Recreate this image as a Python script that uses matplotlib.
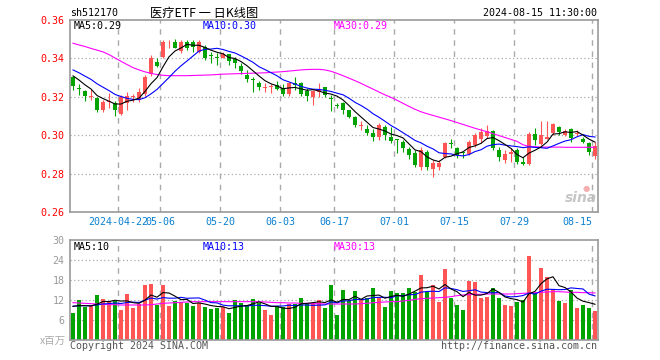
import matplotlib
matplotlib.use("Agg")
import matplotlib.pyplot as plt
from matplotlib.transforms import blended_transform_factory
import numpy as np
import pandas as pd

# ---------------- data ----------------
month_days = {
    "04": [10, 11, 12, 15, 16, 17, 18, 19, 22, 23, 24, 25, 26, 29, 30],
    "05": [6, 7, 8, 9, 10, 13, 14, 15, 16, 17, 20, 21, 22, 23, 24, 27, 28, 29, 30, 31],
    "06": [3, 4, 5, 6, 7, 11, 12, 13, 14, 17, 18, 19, 20, 21, 24, 25, 26, 27, 28],
    "07": [1, 2, 3, 4, 5, 8, 9, 10, 11, 12, 15, 16, 17, 18, 19, 22, 23, 24, 25, 26, 29, 30, 31],
    "08": [1, 2, 5, 6, 7, 8, 9, 12, 13, 14, 15],
}
trade_days = [f"2024-{m}-{d:02d}" for m, ds in month_days.items() for d in ds]

tick_dates = ["2024-04-22", "2024-05-06", "2024-05-20", "2024-06-03", "2024-06-17",
              "2024-07-01", "2024-07-15", "2024-07-29", "2024-08-15"]
tick_labels = ["2024-04-22", "05-06", "05-20", "06-03", "06-17",
               "07-01", "07-15", "07-29", "08-15"]

opens = [0.3305, 0.3246, 0.3230, 0.3199, 0.3195, 0.3131, 0.3171, 0.3166, 0.3108, 0.3166,
         0.3198, 0.3183, 0.3213, 0.3317, 0.3383, 0.3409, 0.3483, 0.3484, 0.3439, 0.3484,
         0.3484, 0.3435, 0.3461, 0.3416, 0.3405, 0.3404, 0.3421, 0.3397, 0.3362, 0.3316,
         0.3292, 0.3274, 0.3248, 0.3249, 0.3261, 0.3244, 0.3215, 0.3270, 0.3270, 0.3230,
         0.3197, 0.3227, 0.3249, 0.3194, 0.3154, 0.3166, 0.3131, 0.3093, 0.3047, 0.3032,
         0.3013, 0.2989, 0.3044, 0.2992, 0.2977, 0.2966, 0.2926, 0.2906, 0.2835, 0.2914,
         0.2824, 0.2836, 0.2885, 0.2957, 0.2932, 0.2907, 0.2902, 0.2949, 0.2979, 0.2996,
         0.3022, 0.2923, 0.2871, 0.2902, 0.2923, 0.2862, 0.2850, 0.3006, 0.2954, 0.2979,
         0.3010, 0.3041, 0.3001, 0.3030, 0.3005, 0.2980, 0.2958, 0.2890]
highs = [0.3310, 0.3265, 0.3237, 0.3239, 0.3201, 0.3183, 0.3221, 0.3178, 0.3209, 0.3223,
         0.3216, 0.3244, 0.3314, 0.3418, 0.3404, 0.3496, 0.3496, 0.3501, 0.3496, 0.3496,
         0.3496, 0.3496, 0.3470, 0.3435, 0.3427, 0.3433, 0.3425, 0.3409, 0.3375, 0.3342,
         0.3305, 0.3284, 0.3270, 0.3267, 0.3284, 0.3267, 0.3279, 0.3305, 0.3279, 0.3244,
         0.3235, 0.3274, 0.3253, 0.3209, 0.3166, 0.3175, 0.3133, 0.3102, 0.3074, 0.3053,
         0.3031, 0.3065, 0.3053, 0.3044, 0.2979, 0.2975, 0.2937, 0.2923, 0.2937, 0.2923,
         0.2871, 0.2871, 0.2966, 0.2979, 0.2940, 0.2914, 0.2975, 0.3010, 0.3036, 0.3053,
         0.3027, 0.2940, 0.2923, 0.2932, 0.2932, 0.2885, 0.3018, 0.3036, 0.3076, 0.3076,
         0.3062, 0.3046, 0.3031, 0.3035, 0.3025, 0.2990, 0.2966, 0.2966]
lows = [0.3235, 0.3209, 0.3180, 0.3183, 0.3119, 0.3119, 0.3142, 0.3101, 0.3105, 0.3131,
        0.3175, 0.3175, 0.3204, 0.3308, 0.3357, 0.3404, 0.3453, 0.3453, 0.3427, 0.3444,
        0.3435, 0.3427, 0.3392, 0.3375, 0.3366, 0.3402, 0.3366, 0.3348, 0.3317, 0.3279,
        0.3227, 0.3235, 0.3227, 0.3221, 0.3235, 0.3204, 0.3204, 0.3235, 0.3204, 0.3180,
        0.3157, 0.3197, 0.3197, 0.3128, 0.3140, 0.3110, 0.3090, 0.3044, 0.3027, 0.3001,
        0.2971, 0.2975, 0.2975, 0.2961, 0.2909, 0.2914, 0.2874, 0.2833, 0.2819, 0.2819,
        0.2781, 0.2819, 0.2880, 0.2932, 0.2880, 0.2880, 0.2897, 0.2940, 0.2961, 0.2984,
        0.2923, 0.2867, 0.2857, 0.2862, 0.2850, 0.2845, 0.2845, 0.2949, 0.2949, 0.2979,
        0.3001, 0.3001, 0.2997, 0.2966, 0.2995, 0.2957, 0.2897, 0.2874]
closes = [0.3255, 0.3242, 0.3204, 0.3202, 0.3131, 0.3175, 0.3174, 0.3131, 0.3201, 0.3204,
          0.3202, 0.3227, 0.3305, 0.3404, 0.3362, 0.3484, 0.3486, 0.3456, 0.3484, 0.3456,
          0.3461, 0.3484, 0.3400, 0.3413, 0.3402, 0.3421, 0.3386, 0.3375, 0.3334, 0.3293,
          0.3289, 0.3253, 0.3251, 0.3252, 0.3241, 0.3213, 0.3274, 0.3264, 0.3215, 0.3204,
          0.3230, 0.3239, 0.3209, 0.3190, 0.3150, 0.3131, 0.3093, 0.3051, 0.3051, 0.3013,
          0.2992, 0.3053, 0.3001, 0.2971, 0.2973, 0.2932, 0.2897, 0.2845, 0.2925, 0.2836,
          0.2853, 0.2853, 0.2958, 0.2954, 0.2897, 0.2905, 0.2966, 0.3001, 0.3018, 0.3022,
          0.2932, 0.2885, 0.2902, 0.2914, 0.2862, 0.2850, 0.3006, 0.2975, 0.3001, 0.2989,
          0.3058, 0.3018, 0.3022, 0.2985, 0.3012, 0.2966, 0.2914, 0.2942]
# closes of the 9 sessions before the first shown day (estimated from MA start values)
pre_closes = [0.339, 0.338, 0.337, 0.336, 0.3355, 0.335, 0.333, 0.331, 0.330]

ma30_price = [0.3479, 0.3470, 0.3462, 0.3452, 0.3443, 0.3434, 0.3420, 0.3402, 0.3385, 0.3368,
              0.3352, 0.3340, 0.3330, 0.3322, 0.3316, 0.3312, 0.3310, 0.3310, 0.3310, 0.3310,
              0.3311, 0.3312, 0.3313, 0.3314, 0.3316, 0.3318, 0.3319, 0.3320, 0.3321, 0.3322,
              0.3323, 0.3324, 0.3325, 0.3327, 0.3329, 0.3331, 0.3334, 0.3337, 0.3340, 0.3342,
              0.3343, 0.3343, 0.3340, 0.3333, 0.3322, 0.3310, 0.3297, 0.3284, 0.3270, 0.3255,
              0.3240, 0.3225, 0.3210, 0.3197, 0.3182, 0.3166, 0.3150, 0.3135, 0.3122, 0.3112,
              0.3103, 0.3094, 0.3085, 0.3076, 0.3066, 0.3056, 0.3046, 0.3036, 0.3027, 0.3018,
              0.3008, 0.2998, 0.2988, 0.2978, 0.2968, 0.2950, 0.2942, 0.2940, 0.2938, 0.2938,
              0.2938, 0.2938, 0.2937, 0.2937, 0.2937, 0.2937, 0.2937, 0.2937]

volumes = [8.2, 12.0, 9.8, 10.2, 13.5, 12.3, 11.8, 11.8, 9.0, 13.8,
           9.6, 10.8, 16.5, 16.8, 10.5, 16.5, 10.2, 11.8, 11.5, 11.0,
           10.2, 11.2, 10.0, 9.3, 9.6, 9.8, 8.2, 12.0, 11.2, 10.5,
           12.3, 11.2, 9.0, 7.5, 10.2, 9.8, 10.8, 10.8, 12.7, 10.8,
           11.0, 12.0, 9.7, 16.5, 7.5, 15.0, 11.8, 14.7, 12.0, 12.5,
           15.7, 12.5, 10.0, 14.7, 14.2, 14.2, 15.7, 14.5, 19.5, 14.5,
           16.5, 11.5, 21.3, 12.7, 10.5, 9.0, 17.8, 17.3, 12.7, 13.0,
           15.7, 12.7, 10.5, 10.2, 11.5, 12.0, 25.2, 14.0, 21.7, 18.8,
           15.2, 11.8, 11.2, 15.0, 9.7, 10.5, 9.7, 8.7]
pre_volumes = [10.5, 9.8, 10.2, 11.0, 9.5, 10.8, 9.9, 10.6, 10.9]

ma30_vol = [11.2, 11.1, 11.0, 10.9, 10.8, 10.7, 10.6, 10.6, 10.5, 10.5,
            10.5, 10.5, 10.5, 10.6, 10.8, 11.0, 11.1, 11.2, 11.3, 11.4,
            11.5, 11.5, 11.5, 11.5, 11.5, 11.5, 11.5, 11.5, 11.5, 11.5,
            11.5, 11.5, 11.4, 11.3, 11.2, 11.2, 11.1, 11.1, 11.0, 11.0,
            10.9, 10.9, 10.8, 10.8, 10.8, 10.8, 10.8, 10.8, 10.9, 11.0,
            11.2, 11.3, 11.4, 11.5, 11.5, 11.7, 11.9, 12.2, 12.4, 12.5,
            12.6, 12.7, 12.8, 13.0, 13.3, 13.5, 13.6, 13.7, 13.7, 13.8,
            13.8, 13.8, 13.8, 13.8, 13.9, 14.0, 14.1, 14.2, 14.3, 14.4,
            14.5, 14.5, 14.4, 14.3, 14.3, 14.2, 14.2, 14.1]

# ---------------- styles ----------------
RED = "#ff5555"
GREEN = "#00a300"
GRID = "#aaaaaa"
SPINE = "#999999"
MONO = "DejaVu Sans Mono"
FS = 7.2
LW = 0.8

O = np.array(opens); H = np.array(highs); L = np.array(lows); C = np.array(closes)
V = np.array(volumes)
n = len(C)
x = np.arange(n)
up = C >= O
cols = np.where(up, RED, GREEN)

cser = pd.Series(pre_closes + closes)
ma5 = cser.rolling(5).mean().to_numpy()[len(pre_closes):]
ma10 = cser.rolling(10).mean().to_numpy()[len(pre_closes):]
vser = pd.Series(pre_volumes + volumes)
vma5 = vser.rolling(5).mean().to_numpy()[len(pre_volumes):]
vma10 = vser.rolling(10).mean().to_numpy()[len(pre_volumes):]

tick_idx = [trade_days.index(d) for d in tick_dates]

W, Hpx = 660, 360
fig = plt.figure(figsize=(W / 100, Hpx / 100), dpi=100)
fig.patch.set_facecolor("white")

def fx(px):
    return px / W

def fy(py):
    return 1 - py / Hpx

ax = fig.add_axes([fx(70), fy(212), 528 / W, 192 / Hpx])
axv = fig.add_axes([fx(70), fy(340), 528 / W, 100 / Hpx])

# ---- price panel ----
for yv in [0.28, 0.30, 0.32, 0.34]:
    ax.axhline(yv, color=GRID, ls=(0, (1, 2)), lw=0.9, zorder=0)
for ti in tick_idx:
    ax.axvline(ti - 0.5, color=GRID, ls=(0, (4, 4)), lw=1.0, zorder=0)

ax.vlines(x, L, H, colors=cols, lw=0.8, zorder=2)
body_bot = np.minimum(O, C)
body_h = np.maximum(np.abs(C - O), 0.0005)
ax.bar(x, body_h, bottom=body_bot, width=0.8, color=cols, linewidth=0, zorder=3)

ax.plot(x, ma30_price, color="#ff00ff", lw=LW, zorder=4)
ax.plot(x, ma10, color="#0000ff", lw=LW, zorder=4)
ax.plot(x, ma5, color="black", lw=LW, zorder=4)

ax.set_xlim(-0.5, n - 0.5)
ax.set_ylim(0.26, 0.36)
ax.set_xticks([])
pt = [0.26, 0.28, 0.30, 0.32, 0.34, 0.36]
ax.set_yticks(pt)
ax.set_yticklabels([f"{v:.2f}" for v in pt], color="red", fontfamily=MONO, fontsize=FS)
ax.tick_params(axis="y", length=0, pad=4)
for s in ax.spines.values():
    s.set_color(SPINE)
    s.set_linewidth(1.2)

trans = blended_transform_factory(ax.transData, fig.transFigure)
for ti, lab in zip(tick_idx, tick_labels):
    ha = "right" if ti == n - 1 else "center"
    ax.text(ti - 0.5, fy(222), lab, transform=trans, ha=ha, va="center",
            color="#0a80d0", fontfamily=MONO, fontsize=FS)

ax.text(fx(74), fy(26), "MA5:0.29", transform=fig.transFigure, color="black",
        fontfamily=MONO, fontsize=FS, va="center", ha="left")
ax.text(fx(203), fy(26), "MA10:0.30", transform=fig.transFigure, color="#0000ff",
        fontfamily=MONO, fontsize=FS, va="center", ha="left")
ax.text(fx(334), fy(26), "MA30:0.29", transform=fig.transFigure, color="#ff00ff",
        fontfamily=MONO, fontsize=FS, va="center", ha="left")

# sina watermark
fig.text(fx(581), fy(198), "sina", color="#c0c0c0", fontsize=10, fontweight="bold",
         fontstyle="italic", ha="center", va="center", alpha=0.9)
fig.text(fx(586), fy(188), "●", color="#f4b0b0", fontsize=6, ha="center", va="center")

# ---- volume panel ----
for yv in [6, 12, 18, 24]:
    axv.axhline(yv, color=GRID, ls=(0, (1, 2)), lw=0.9, zorder=0)
for ti in tick_idx:
    axv.axvline(ti - 0.5, color=GRID, ls=(0, (4, 4)), lw=1.0, zorder=0)
axv.bar(x, V, width=0.8, color=cols, linewidth=0, zorder=2)
axv.plot(x, ma30_vol, color="#ff00ff", lw=LW, zorder=4)
axv.plot(x, vma10, color="#0000ff", lw=LW, zorder=4)
axv.plot(x, vma5, color="black", lw=LW, zorder=4)
axv.set_xlim(-0.5, n - 0.5)
axv.set_ylim(0, 30)
axv.set_xticks([])
vt = [6, 12, 18, 24, 30]
axv.set_yticks(vt)
axv.set_yticklabels([str(v) for v in vt], color="#999999", fontfamily=MONO, fontsize=FS)
axv.tick_params(axis="y", length=0, pad=4)
for s in axv.spines.values():
    s.set_color(SPINE)
    s.set_linewidth(1.2)

fig.text(fx(74), fy(246.5), "MA5:10", color="black", fontfamily=MONO, fontsize=FS, va="center")
fig.text(fx(203), fy(246.5), "MA10:13", color="#0000ff", fontfamily=MONO, fontsize=FS, va="center")
fig.text(fx(334), fy(246.5), "MA30:13", color="#ff00ff", fontfamily=MONO, fontsize=FS, va="center")
fig.text(fx(66), fy(341), "x百万", color="#aaaaaa", fontsize=7.5, ha="right", va="center",
         family=["Noto Sans CJK SC", "DejaVu Sans"])

# ---- header / footer ----
fig.text(fx(70), fy(13), "sh512170", color="black", fontfamily=MONO, fontsize=FS, va="center")
fig.text(fx(150), fy(13), "医疗ETF 一 日K线图", color="black", fontsize=8.8, va="center",
         family=["Noto Sans CJK SC", "DejaVu Sans"])
fig.text(fx(597), fy(13), "2024-08-15 11:30:00", color="black", fontfamily=MONO,
         fontsize=FS, va="center", ha="right")
fig.text(fx(70), fy(346), "Copyright 2024 SINA.COM", color="#555555", fontfamily=MONO,
         fontsize=FS, va="center", ha="left")
fig.text(fx(597), fy(346), "http://finance.sina.com.cn", color="#555555", fontfamily=MONO,
         fontsize=FS, va="center", ha="right")

fig.savefig("out.png", dpi=100, facecolor="white")
